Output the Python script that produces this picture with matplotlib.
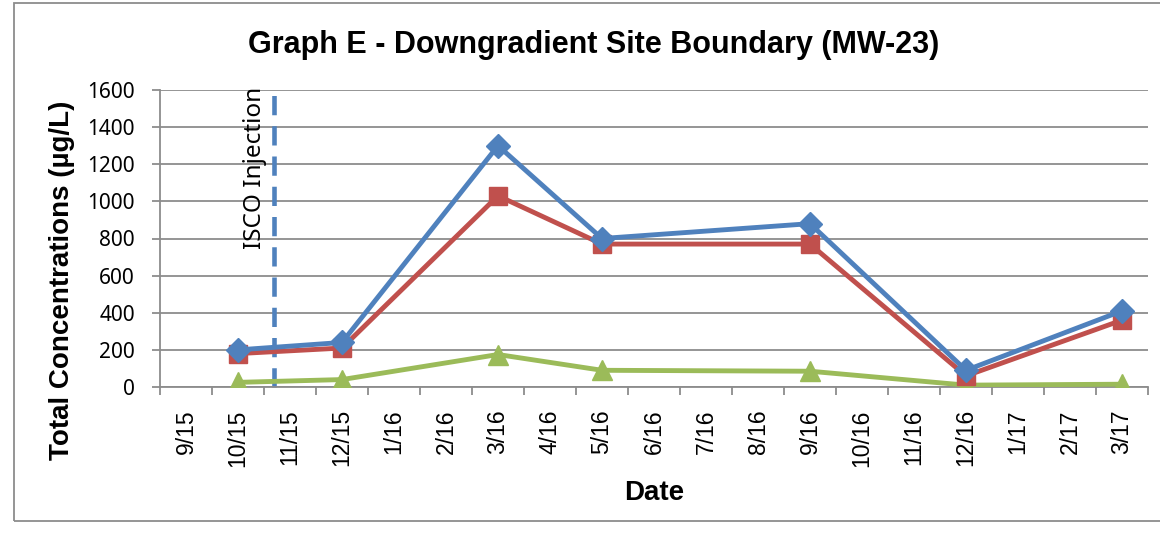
import matplotlib.pyplot as plt
from matplotlib.patches import Rectangle

# monthly categories on the x axis
months = ['9/15', '10/15', '11/15', '12/15', '1/16', '2/16', '3/16', '4/16', '5/16',
          '6/16', '7/16', '8/16', '9/16', '10/16', '11/16', '12/16', '1/17', '2/17', '3/17']

# sampling events
sample_dates = ['10/15', '12/15', '3/16', '5/16', '9/16', '12/16', '3/17']
blue_vals = [200, 240, 1300, 800, 880, 90, 410]
red_vals = [180, 210, 1030, 770, 770, 60, 360]
green_vals = [25, 40, 175, 90, 85, 10, 15]

injection_pos = 1.7  # between 10/15 and 11/15

BLUE = '#4F81BD'
RED = '#C0504D'
GREEN = '#9BBB59'
GRID = '#8C8C8C'

fig = plt.figure(figsize=(11.6, 5.37), dpi=100)
ax = fig.add_axes([160 / 1160, 1 - 387 / 537, 988 / 1160, 297 / 537])

xs = [months.index(d) for d in sample_dates]
ax.plot(xs, blue_vals, color=BLUE, lw=3.5, marker='D', ms=12, zorder=5)
ax.plot(xs, red_vals, color=RED, lw=3.5, marker='s', ms=13, zorder=4)
ax.plot(xs, green_vals, color=GREEN, lw=3.5, marker='^', ms=15, zorder=3)

ax.axvline(injection_pos, color=BLUE, lw=3.3, dashes=(4.2, 2.4), ymax=1.01, clip_on=False, zorder=2)
ax.text(1.33, 1.01, 'ISCO Injection', rotation=90, ha='center', va='top',
        transform=ax.get_xaxis_transform(), fontsize=17.5, family='Noto Sans')

ax.set_xlim(-0.5, len(months) - 0.5)
ax.set_ylim(0, 1600)
ax.set_yticks(range(0, 1601, 200))
ax.yaxis.grid(True, color=GRID, lw=1.3)
ax.set_axisbelow(True)

ax.set_xticks([i - 0.5 for i in range(len(months) + 1)])
ax.set_xticklabels([])
ax.set_xticks(range(len(months)), minor=True)
ax.set_xticklabels(months, minor=True, rotation=90, fontsize=16.5, family='Liberation Sans')
ax.tick_params(axis='x', which='major', length=6, color=GRID, width=1.3)
ax.tick_params(axis='x', which='minor', length=0, pad=16)
ax.tick_params(axis='y', length=6, color=GRID, width=1.3, labelsize=15, pad=12)
for lab in ax.get_yticklabels():
    lab.set_family('Noto Sans')

for s in ['top', 'right']:
    ax.spines[s].set_visible(False)
for s in ['left', 'bottom']:
    ax.spines[s].set_color(GRID)
    ax.spines[s].set_linewidth(1.3)

fig.text(594 / 1160, 1 - 45 / 537, 'Graph E - Downgradient Site Boundary (MW-23)', fontsize=22,
         fontweight='bold', family='Liberation Sans', ha='center', va='center')
fig.text(62 / 1160, 1 - 280 / 537, 'Total Concentrations (µg/L)', fontsize=20, fontweight='bold',
         family='Liberation Sans', rotation=90, ha='center', va='center')
ax.set_xlabel('Date', fontsize=20, fontweight='bold', family='Liberation Sans', labelpad=10)

fig.patches.append(Rectangle((14 / 1160, 1 - 521 / 537), 1160, 518 / 537, transform=fig.transFigure,
                             fill=False, edgecolor=GRID, lw=1.3))

fig.savefig('out.png', dpi=100)
